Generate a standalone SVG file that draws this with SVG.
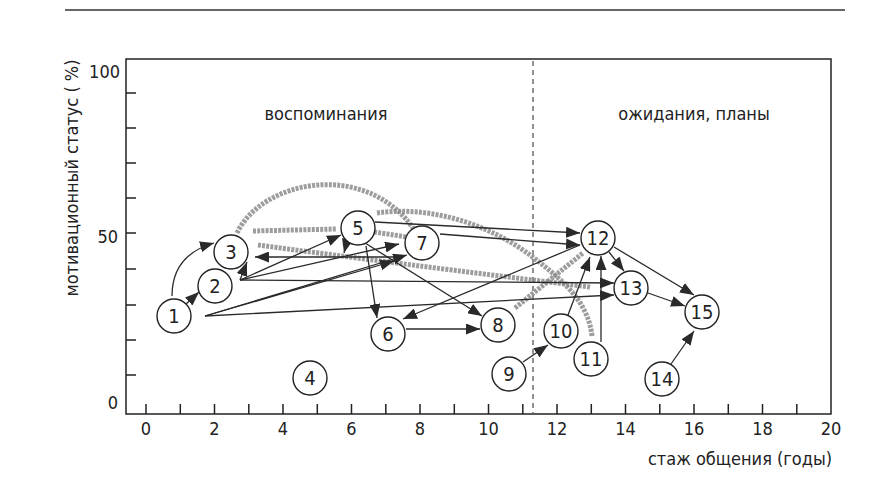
<svg xmlns="http://www.w3.org/2000/svg" width="870" height="492" viewBox="0 0 870 492">
<style>
text{font-family:'DejaVu Sans Condensed','DejaVu Sans',sans-serif;fill:#222;font-stretch:condensed}
.lbl{font-size:18px}
.num{font-size:18px;text-anchor:middle}
.tick{stroke:#222;stroke-width:1.5}
.node circle{fill:#fff;stroke:#222;stroke-width:1.4}
.node text{font-size:20px;text-anchor:middle}
.c{fill:none;stroke:#2a2a2a;stroke-width:1.3;marker-end:url(#ah)}
.g{fill:none;stroke:#8c8c8c;stroke-width:5;stroke-dasharray:3 1.2;opacity:.85}
</style>
<defs>
<marker id="ah" markerUnits="userSpaceOnUse" markerWidth="14" markerHeight="11" refX="14" refY="5.5" orient="auto">
<path d="M0,0 L14,5.5 L0,11 z" fill="#2a2a2a"/>
</marker>
</defs>
<rect width="870" height="492" fill="#fff"/>
<line x1="65" y1="10" x2="845" y2="10" stroke="#333" stroke-width="1.5"/>
<g id="axes">
<rect x="126" y="59" width="705" height="355" fill="none" stroke="#222" stroke-width="1.5"/>
<g class="tick">
<line x1="146" y1="404" x2="146" y2="414"/><line x1="180.3" y1="404" x2="180.3" y2="414"/><line x1="214.5" y1="404" x2="214.5" y2="414"/><line x1="248.8" y1="404" x2="248.8" y2="414"/><line x1="283" y1="404" x2="283" y2="414"/><line x1="317.3" y1="404" x2="317.3" y2="414"/><line x1="351.5" y1="404" x2="351.5" y2="414"/><line x1="385.8" y1="404" x2="385.8" y2="414"/><line x1="420" y1="404" x2="420" y2="414"/><line x1="454.3" y1="404" x2="454.3" y2="414"/><line x1="488.5" y1="404" x2="488.5" y2="414"/><line x1="522.8" y1="404" x2="522.8" y2="414"/><line x1="557" y1="404" x2="557" y2="414"/><line x1="591.3" y1="404" x2="591.3" y2="414"/><line x1="625.5" y1="404" x2="625.5" y2="414"/><line x1="659.8" y1="404" x2="659.8" y2="414"/><line x1="694" y1="404" x2="694" y2="414"/><line x1="728.3" y1="404" x2="728.3" y2="414"/><line x1="762.5" y1="404" x2="762.5" y2="414"/><line x1="796.8" y1="404" x2="796.8" y2="414"/>
<line x1="126" y1="93" x2="136" y2="93"/><line x1="126" y1="128" x2="136" y2="128"/><line x1="126" y1="163" x2="136" y2="163"/><line x1="126" y1="198" x2="136" y2="198"/><line x1="126" y1="233" x2="136" y2="233"/><line x1="126" y1="269" x2="136" y2="269"/><line x1="126" y1="305" x2="136" y2="305"/><line x1="126" y1="340" x2="136" y2="340"/><line x1="126" y1="375" x2="136" y2="375"/>
</g>
<line x1="533" y1="61" x2="533" y2="413" stroke="#222" stroke-width="1" stroke-dasharray="5 4"/>
<g class="num">
<text x="146" y="435">0</text><text x="214.5" y="435">2</text><text x="283" y="435">4</text><text x="351.5" y="435">6</text><text x="420" y="435">8</text><text x="488.5" y="435">10</text><text x="557" y="435">12</text><text x="625.5" y="435">14</text><text x="694" y="435">16</text><text x="762.5" y="435">18</text><text x="831" y="435">20</text>
</g>
<g class="lbl" text-anchor="end">
<text x="120" y="78">100</text><text x="118" y="243">50</text><text x="118" y="409">0</text>
</g>
<text class="lbl" x="326" y="120" text-anchor="middle">воспоминания</text>
<text class="lbl" x="694" y="120" text-anchor="middle">ожидания, планы</text>
<text class="lbl" x="740" y="465" text-anchor="middle">стаж общения (годы)</text>
<text class="lbl" transform="translate(78,178) rotate(-90)" text-anchor="middle">мотивационный статус ( %)</text>
</g>
<g id="gray-strokes">
<path class="g" d="M237,233 C262,180 365,160 413,228"/>
<path class="g" d="M377,213 C430,205 490,225 530,255 C560,278 588,300 592,336"/>
<path class="g" d="M253,231 L336,229"/>
<path class="g" d="M258,245 Q400,264 590,287"/>
<path class="g" d="M515,308 L583,253"/>
<path class="g" d="M374,232 L407,237"/>
</g>
<g id="connectors">
<path class="c" d="M172,296 Q172,255 214,243"/>
<path class="c" d="M186,304 L199,292"/>
<path class="c" d="M240,280 L247,262"/>
<path class="c" d="M240,280 L341,235"/>
<path class="c" d="M240,280 L399,244"/>
<path class="c" d="M240,280 L614,283"/>
<path class="c" d="M205,316 L407,255"/>
<path class="c" d="M205,316 L394,261"/>
<path class="c" d="M205,316 L614,295"/>
<path class="c" d="M403,257 L255,257"/>
<path class="c" d="M366,246 L377,318"/>
<path class="c" d="M365,243 L482,316"/>
<path class="c" d="M406,329 L480,329"/>
<path class="c" d="M580,245 L403,319"/>
<path class="c" d="M375,222 L580,233"/>
<path class="c" d="M440,234 L580,245"/>
<path class="c" d="M523,362 L548,345"/>
<path class="c" d="M568,315 L590,257"/>
<path class="c" d="M601,342 L601,256"/>
<path class="c" d="M609,252 L624,271"/>
<path class="c" d="M614,247 L694,295"/>
<path class="c" d="M648,293 L685,306"/>
<path class="c" d="M671,364 L694,331"/>
<path class="c" d="M347,241 L344,253"/>
</g>
<g id="n1" class="node"><circle cx="174" cy="316" r="17"/><text x="174" y="323">1</text></g>
<g id="n2" class="node"><circle cx="215" cy="286" r="17"/><text x="215" y="293">2</text></g>
<g id="n3" class="node"><circle cx="231" cy="252" r="17"/><text x="231" y="259">3</text></g>
<g id="n4" class="node"><circle cx="310" cy="378" r="17"/><text x="310" y="385">4</text></g>
<g id="n5" class="node"><circle cx="358" cy="228" r="17"/><text x="358" y="235">5</text></g>
<g id="n6" class="node"><circle cx="388" cy="334" r="17"/><text x="388" y="341">6</text></g>
<g id="n7" class="node"><circle cx="422" cy="243" r="17"/><text x="422" y="250">7</text></g>
<g id="n8" class="node"><circle cx="498" cy="325" r="17"/><text x="498" y="332">8</text></g>
<g id="n9" class="node"><circle cx="509" cy="374" r="17"/><text x="509" y="381">9</text></g>
<g id="n10" class="node"><circle cx="561" cy="331" r="17"/><text x="561" y="338">10</text></g>
<g id="n11" class="node"><circle cx="591" cy="359" r="17"/><text x="591" y="366">11</text></g>
<g id="n12" class="node"><circle cx="598" cy="238" r="17"/><text x="598" y="245">12</text></g>
<g id="n13" class="node"><circle cx="631" cy="288" r="17"/><text x="631" y="295">13</text></g>
<g id="n14" class="node"><circle cx="662" cy="379" r="17"/><text x="662" y="386">14</text></g>
<g id="n15" class="node"><circle cx="702" cy="312" r="17"/><text x="702" y="319">15</text></g>
</svg>
